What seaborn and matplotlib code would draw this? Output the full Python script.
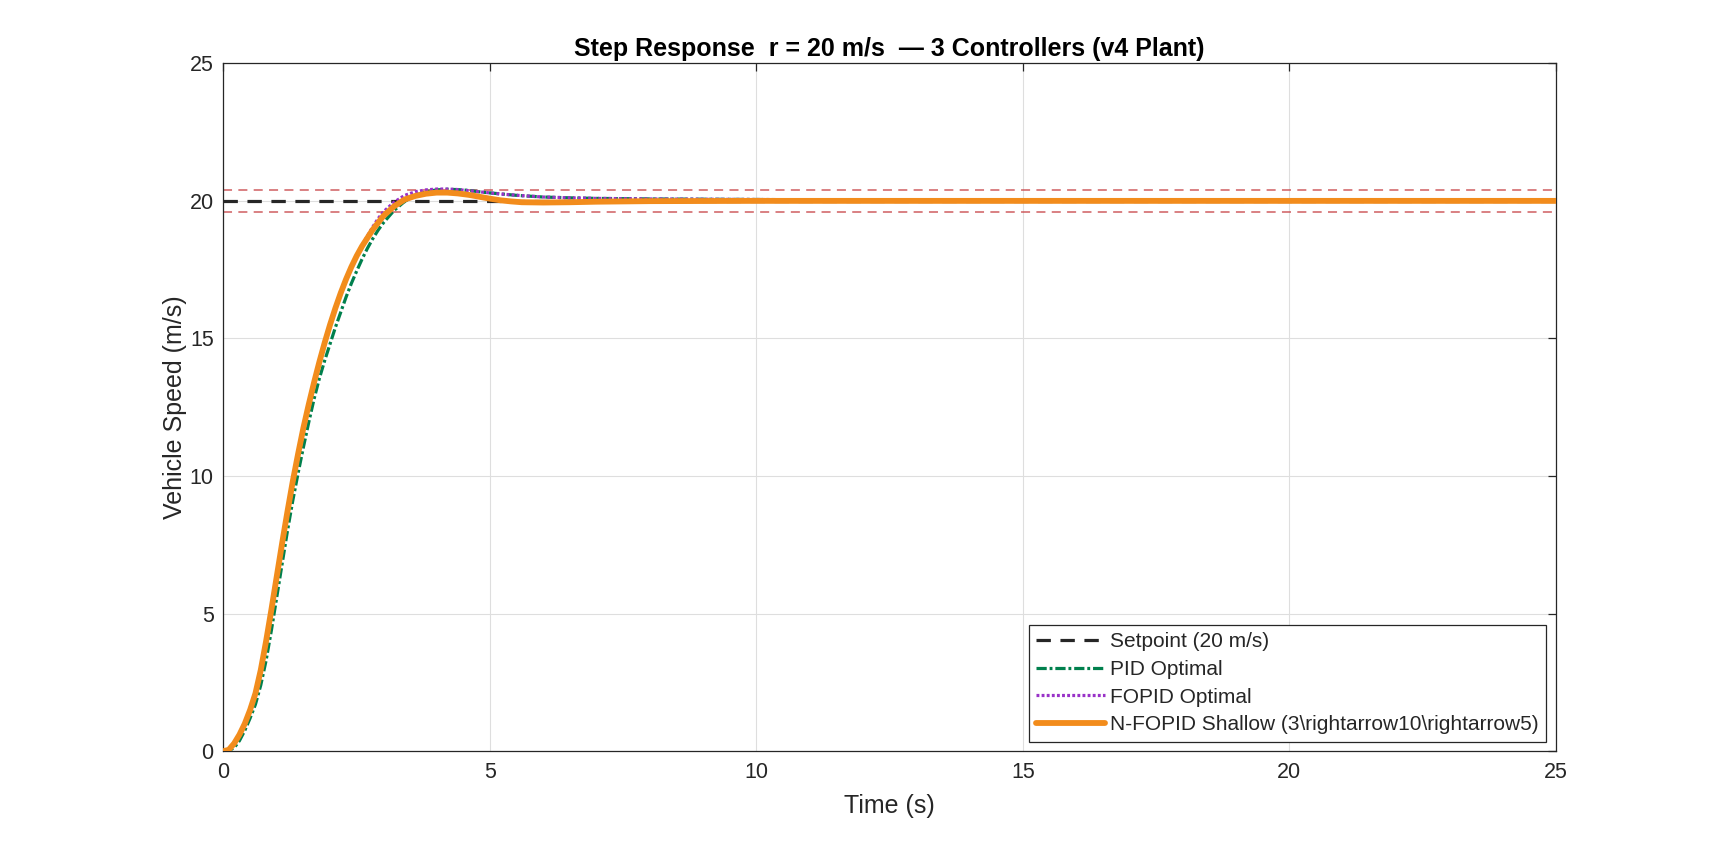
import numpy as np
import seaborn as sns
import matplotlib.pyplot as plt

sns.set_theme(style='white')
plt.rcParams['font.family'] = ['Liberation Sans', 'DejaVu Sans']

# values
t_fast = [0, 0.1, 0.2, 0.3, 0.4, 0.5, 0.6, 0.7, 0.8, 0.9, 1.0, 1.1, 1.2, 1.3,
          1.4, 1.5, 1.6, 1.7, 1.8, 1.9, 2.0, 2.1, 2.2, 2.3, 2.4, 2.5, 2.6,
          2.7, 2.8, 2.9, 3.0, 3.2, 3.4, 3.6, 3.8, 4.0, 4.2, 4.4, 4.6, 4.8,
          5.0, 5.2, 5.4, 5.6, 6.0, 6.5, 7.0, 8.0, 10.0, 12.0, 15.0, 20.0, 25.0]
nfopid = [0, 0.05, 0.28, 0.6, 1.0, 1.5, 2.1, 2.95, 4.0, 5.15, 6.35, 7.55,
          8.7, 9.8, 10.8, 11.75, 12.6, 13.4, 14.15, 14.85, 15.5, 16.1, 16.65,
          17.15, 17.6, 18.0, 18.35, 18.65, 18.95, 19.2, 19.45, 19.8, 20.05,
          20.18, 20.26, 20.3, 20.3, 20.27, 20.22, 20.15, 20.08, 20.02, 19.98,
          19.95, 19.94, 19.95, 19.97, 19.99, 20.0, 20.0, 20.0, 20.0, 20.0]
fopid = [0, 0.05, 0.28, 0.6, 1.0, 1.5, 2.1, 2.95, 4.0, 5.15, 6.35, 7.55,
         8.7, 9.8, 10.8, 11.75, 12.6, 13.4, 14.15, 14.85, 15.5, 16.1, 16.65,
         17.15, 17.6, 18.0, 18.38, 18.72, 19.05, 19.35, 19.6, 19.95, 20.2,
         20.33, 20.4, 20.43, 20.43, 20.41, 20.37, 20.33, 20.29, 20.25, 20.22,
         20.19, 20.14, 20.11, 20.09, 20.07, 20.05, 20.03, 20.01, 20.0, 20.0]

t_pid = [0, 0.1, 0.2, 0.3, 0.4, 0.5, 0.6, 0.7, 0.8, 0.9, 1.0, 1.1, 1.2, 1.3,
         1.4, 1.5, 1.6, 1.7, 1.8, 1.9, 2.0, 2.1, 2.2, 2.3, 2.4, 2.5, 2.6,
         2.7, 2.8, 2.9, 3.0, 3.2, 3.4, 3.6, 3.8, 4.0, 4.2, 4.4, 4.6, 4.8,
         5.0, 5.5, 6.0, 6.5, 7.0, 8.0, 10.0, 12.0, 15.0, 20.0, 25.0]
pid = [0, 0.02, 0.12, 0.38, 0.75, 1.2, 1.7, 2.4, 3.3, 4.4, 5.6, 6.8, 8.0,
       9.1, 10.1, 11.05, 11.95, 12.8, 13.55, 14.2, 14.8, 15.4, 15.95, 16.5,
       17.0, 17.45, 17.88, 18.27, 18.62, 18.93, 19.2, 19.65, 19.98, 20.2,
       20.33, 20.4, 20.42, 20.41, 20.38, 20.33, 20.29, 20.2, 20.14, 20.11,
       20.09, 20.07, 20.05, 20.03, 20.01, 20.0, 20.0]

t_span = [0, 25]
setpoint = [20, 20]
band_hi = [20.4, 20.4]
band_lo = [19.6, 19.6]

fig = plt.figure(figsize=(17.19, 8.44), dpi=100)
ax = fig.add_axes([0.13, 0.11, 0.775, 0.815])

for band in (band_hi, band_lo):
    sns.lineplot(x=t_span, y=band, ax=ax, color='#c9484b', alpha=0.75,
                 linewidth=1.3, zorder=1)
    ax.lines[-1].set_dashes((5, 3.5))

sns.lineplot(x=t_span, y=setpoint, ax=ax, color='#262626', linewidth=2.3,
             label='Setpoint (20 m/s)', zorder=2)
ax.lines[-1].set_dashes((4.5, 3))
sns.lineplot(x=t_pid, y=pid, ax=ax, color='#00804d', linewidth=2.3,
             label='PID Optimal', zorder=3)
ax.lines[-1].set_dashes((3.2, 0.9, 0.9, 0.9))
sns.lineplot(x=t_fast, y=fopid, ax=ax, color='#9932c8', linewidth=2.3,
             label='FOPID Optimal', zorder=4)
ax.lines[-1].set_dashes((0.9, 0.7))
sns.lineplot(x=t_fast, y=nfopid, ax=ax, color='#f28c1c', linewidth=4.2,
             label=r'N-FOPID Shallow (3\rightarrow10\rightarrow5)', zorder=5)

ax.set_xlim(0, 25)
ax.set_ylim(0, 25)
ax.set_xticks(np.arange(0, 26, 5))
ax.set_yticks(np.arange(0, 26, 5))
ax.grid(True, color='#dedede', linewidth=0.8)
ax.set_axisbelow(True)
for s in ax.spines.values():
    s.set_color('#262626')
    s.set_linewidth(0.9)
ax.tick_params(direction='in', length=6, width=0.9, color='#262626',
               top=True, right=True, labelsize=15.5, labelcolor='#262626')
ax.tick_params(axis='x', pad=8)
ax.tick_params(axis='y', pad=7)

ax.set_xlabel('Time (s)', fontsize=18, color='#262626', labelpad=8)
ax.set_ylabel('Vehicle Speed (m/s)', fontsize=18, color='#262626', labelpad=2)
ax.set_title('Step Response  r = 20 m/s  \u2014 3 Controllers (v4 Plant)',
             fontsize=18, fontweight='bold', color='black', pad=5)

leg = ax.legend(loc='lower right', fontsize=15, frameon=True, fancybox=False,
                edgecolor='#262626', framealpha=1, handlelength=3.3,
                borderpad=0.35, labelspacing=0.42, handletextpad=0.25,
                borderaxespad=0.45)
leg.get_frame().set_linewidth(0.9)

fig.savefig('out.png', dpi=100, facecolor='white')
